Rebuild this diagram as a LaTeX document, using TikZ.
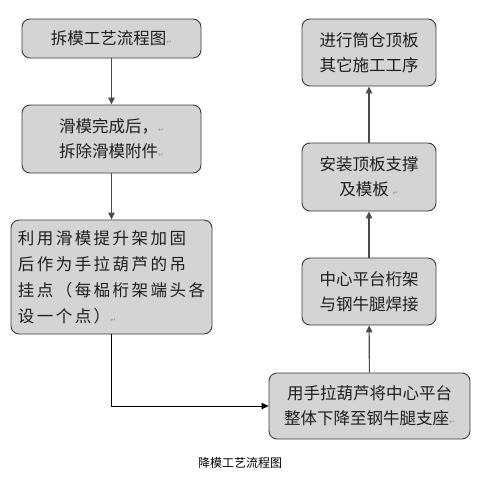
\documentclass[tikz,border=0pt]{standalone}
\usepackage{fontspec}
\setmainfont{Noto Sans CJK SC}
\newfontfamily\symfont{DejaVu Sans}
\usetikzlibrary{arrows.meta}
\definecolor{boxfill}{HTML}{D4D4D4}
\definecolor{boxline}{HTML}{3A3A3A}
\definecolor{txt}{HTML}{1E1E1E}
\definecolor{arr}{HTML}{4A4A4A}
\newcommand{\retmark}{{\fontsize{7}{7}\selectfont\color{gray!80}\symfont ↵}}
\tikzset{
  flowbox/.style={draw=boxline, line width=0.9pt, fill=boxfill, rounded corners=8pt,
    inner sep=0pt, align=center, text=txt, font=\fontsize{16.5}{25}\selectfont},
  widebox/.style={flowbox, align=left,
    font=\fontsize{16.5}{26}\selectfont\addfontfeature{LetterSpace=15}},
  flowarrow/.style={draw=arr, line width=1.1pt, -{Triangle[width=6.5pt,length=7pt]}},
  caption/.style={font=\fontsize{12}{14}\selectfont, text=black}
}
\begin{document}
\begin{tikzpicture}[x=1pt,y=-1pt]
\useasboundingbox (0,0) rectangle (484,477);
\node[flowbox, minimum width=179pt, minimum height=39pt] (b1) at (111.5,38.5) {拆模工艺流程图\retmark};
\node[flowbox, minimum width=179pt, minimum height=68pt] (b2) at (111.5,139) {滑模完成后，\retmark\\拆除滑模附件\retmark};
\node[widebox, minimum width=201pt, minimum height=114pt] (b3) at (111.5,277)
  {利用滑模提升架加固\\后作为手拉葫芦的吊\\挂点（每榀桁架端头各\\设一个点）\retmark};
\node[flowbox, minimum width=201pt, minimum height=66pt] (b5) at (369.5,406) {用手拉葫芦将中心平台\\整体下降至钢牛腿支座\retmark};
\node[flowbox, minimum width=134pt, minimum height=67pt] (b4) at (369,291.5) {中心平台桁架\\与钢牛腿焊接};
\node[flowbox, minimum width=134pt, minimum height=68pt] (b6) at (369,177) {安装顶板支撑\\及模板 \retmark};
\node[flowbox, minimum width=134pt, minimum height=67pt] (b7) at (369,52.5) {进行筒仓顶板\\其它施工工序};
\node[caption] (cap) at (240,463) {降模工艺流程图};
\draw[flowarrow] (b1) -- (b2);
\draw[flowarrow] (b2) -- (b3);
\draw[flowarrow, draw=black, line width=0.8pt] (b3.south) |- (b5.west);
\draw[flowarrow] (b5) -- (b4);
\draw[flowarrow] (b4) -- (b6);
\draw[flowarrow] (b6) -- (b7);
\end{tikzpicture}
\end{document}
